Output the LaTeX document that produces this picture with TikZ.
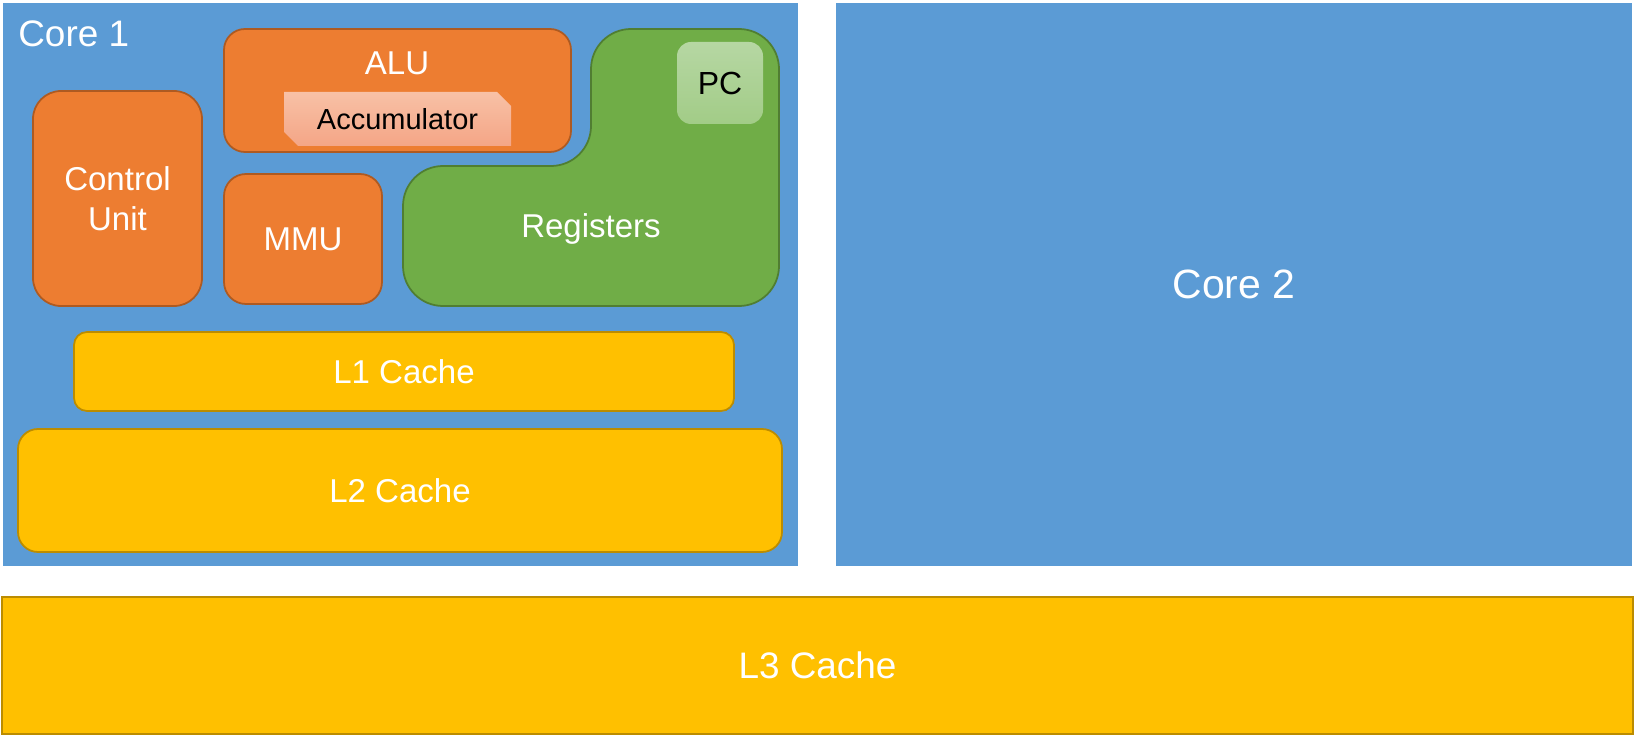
\documentclass[tikz,border=0pt]{standalone}
\usepackage{fontspec}
\setmainfont{Liberation Sans}
\usepackage{xcolor}
\usepackage{tikz}
\usetikzlibrary{shapes.misc}
\definecolor{coreblue}{HTML}{5B9BD5}
\definecolor{unitorange}{HTML}{ED7D31}
\definecolor{unitorangedark}{HTML}{AE5A21}
\definecolor{cachegold}{HTML}{FFC000}
\definecolor{cachegolddark}{HTML}{BC8C00}
\definecolor{reggreen}{HTML}{70AD47}
\definecolor{reggreendark}{HTML}{507E32}
\definecolor{accutop}{HTML}{F8C1A6}
\definecolor{accubottom}{HTML}{F4A586}
\definecolor{pctop}{HTML}{B6D7A3}
\definecolor{pcbottom}{HTML}{A2CC87}
\newcommand{\unitblock}[7]{ % Takes node name, top left x, top left y, bottom right x, bottom right y, style, text as arguments
    \node [minimum width={(#4-#2)*0.02cm}, minimum height={(#5-#3)*0.02cm}, inner sep=0pt, #6] (#1) at ({(#2+#4)/2},{(#3+#5)/2}) {#7};
}
\tikzset{
    whitetext/.style={text=white, font=\fontsize{18.8}{22.8}\selectfont},
    core/.style={fill=coreblue, draw=none, text=white, font=\fontsize{23.3}{28}\selectfont},
    unit/.style={fill=unitorange, draw=unitorangedark, line width=1pt, whitetext, align=center},
    cache/.style={fill=cachegold, draw=cachegolddark, line width=1pt, whitetext},
}

\begin{document}
\begin{tikzpicture}[x=0.02cm, y=-0.02cm]
            \useasboundingbox (0,0) rectangle (1635,736);

            % Cores
            \unitblock{core1}{3}{3}{798}{566}{core}{}
            \unitblock{core2}{836}{3}{1632}{566}{core}{Core 2}
            \node [anchor=base west, text=white, inner sep=0pt, font=\fontsize{21}{25}\selectfont] (core1label) at (18,47) {Core 1};

            % Units inside core 1
            \unitblock{cu}{33}{91}{202}{306}{unit, rounded corners=0.56cm}{Control\\Unit}
            \unitblock{alu}{224}{29}{571}{152}{unit, rounded corners=0.42cm}{}
            \node [anchor=base, whitetext] (alulabel) at (397,75) {ALU};
            \unitblock{accu}{284}{92}{511}{146}{chamfered rectangle, chamfered rectangle corners={north east, south west}, chamfered rectangle xsep=0.14cm, chamfered rectangle ysep=0.14cm, top color=accutop, bottom color=accubottom, font=\fontsize{16.5}{20}\selectfont}{Accumulator}
            \unitblock{mmu}{224}{174}{382}{304}{unit, rounded corners=0.44cm}{MMU}

            % Registers
            \draw [fill=reggreen, draw=reggreendark, line width=1pt] (690,29) [rounded corners=0.8cm] -- (779,29) -- (779,306) -- (403,306) -- (403,166) -- (591,166) -- (591,29) [rounded corners=0.6cm] -- cycle;
            \node [whitetext] (reglabel) at (591,229) {Registers};
            \unitblock{pc}{677}{42}{763}{124}{rounded corners=0.28cm, top color=pctop, bottom color=pcbottom, font=\fontsize{18.2}{22}\selectfont}{PC}

            % Caches
            \unitblock{l1}{74}{332}{734}{411}{cache, rounded corners=0.26cm}{L1 Cache}
            \unitblock{l2}{18}{429}{782}{552}{cache, rounded corners=0.4cm}{L2 Cache}
            \unitblock{l3}{2}{597}{1633}{734}{cache, font=\fontsize{21}{25}\selectfont}{L3 Cache}
        \end{tikzpicture}
\end{document}
